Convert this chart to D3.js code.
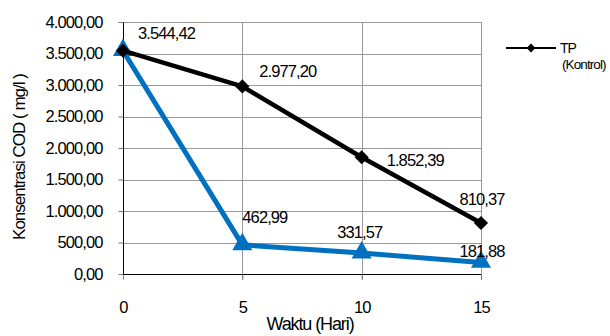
<!DOCTYPE html>
<html>
<head>
<meta charset="utf-8">
<script src="https://cdn.jsdelivr.net/npm/d3@7/dist/d3.min.js"></script>
<style>
  html, body { margin: 0; padding: 0; background: #fff; }
  svg text { font-family: "Liberation Sans", Arial, sans-serif; fill: #000; }
</style>
</head>
<body>
<script>
// Days of observation
const days = [0, 5, 10, 15];
// COD concentration (mg/l), control series
const kontrol = [3544.42, 2977.20, 1852.39, 810.37];
// COD concentration (mg/l), treated series
const perlakuan = [3544.42, 462.99, 331.57, 181.88];
// Axis ticks
const yTicks = [0, 500, 1000, 1500, 2000, 2500, 3000, 3500, 4000];
const xTicks = [0, 5, 10, 15];
const legendLabel = ["TP", "(Kontrol)"];

const W = 610, H = 336;
const margin = { left: 123, right: 129, top: 22, bottom: 62 };

const svg = d3.select("body").append("svg")
  .attr("width", W).attr("height", H);

const x = d3.scaleLinear().domain([0, 15]).range([margin.left, W - margin.right]);
const y = d3.scaleLinear().domain([0, 4000]).range([H - margin.bottom, margin.top]);

const fmt = v => {
  const s = d3.format(",.2f")(v);
  return s.replace(/,/g, "#").replace(".", ",").replace(/#/g, ".");
};

// Grid lines
const grid = svg.append("g").attr("stroke", "#999").attr("stroke-width", 1);
grid.selectAll(".hg").data(yTicks.filter(d => d > 0)).join("line")
  .attr("x1", x(0)).attr("x2", x(15))
  .attr("y1", d => Math.round(y(d)) + 0.5).attr("y2", d => Math.round(y(d)) + 0.5);
grid.selectAll(".vg").data(xTicks.filter(d => d > 0)).join("line")
  .attr("y1", y(4000)).attr("y2", y(0) + 6)
  .attr("x1", d => Math.round(x(d)) + 0.5).attr("x2", d => Math.round(x(d)) + 0.5);

// Y axis
const yAxis = svg.append("g")
  .attr("transform", `translate(${Math.round(x(0)) + 0.5},0)`)
  .call(d3.axisLeft(y).tickValues(yTicks).tickFormat(fmt).tickSize(5).tickPadding(16));
yAxis.select(".domain").attr("stroke", "#000").attr("d", `M0,${y(4000)}V${y(0) + 5}`);
yAxis.selectAll(".tick line").attr("stroke", "#777");
yAxis.selectAll("text").attr("font-size", 16.5).attr("letter-spacing", -0.9)
  .attr("font-family", "'Liberation Sans', Arial, sans-serif").attr("fill", "#000");

// X axis
const xAxis = svg.append("g")
  .attr("transform", `translate(0,${Math.round(y(0)) + 0.5})`)
  .call(d3.axisBottom(x).tickValues(xTicks).tickSize(5).tickPadding(22));
xAxis.select(".domain").attr("stroke", "#000").attr("d", `M${x(0)},0H${x(15)}`);
xAxis.selectAll(".tick line").attr("stroke", "#777");
xAxis.selectAll("text").attr("font-size", 16.5).attr("letter-spacing", -0.9)
  .attr("font-family", "'Liberation Sans', Arial, sans-serif").attr("fill", "#000");

// Axis titles
svg.append("text")
  .attr("x", 310).attr("y", 330).attr("text-anchor", "middle")
  .attr("font-size", 18).attr("letter-spacing", -1.1)
  .text("Waktu (Hari)");
svg.append("text")
  .attr("transform", "translate(25,157) rotate(-90)")
  .attr("text-anchor", "middle")
  .attr("font-size", 17).attr("letter-spacing", -1)
  .text("Konsentrasi COD ( mg/l )");

const line = d3.line().x((d, i) => x(days[i])).y(d => y(d));

// Treated series (blue, triangles)
svg.append("path").datum(perlakuan)
  .attr("d", line).attr("fill", "none")
  .attr("stroke", "#0070C0").attr("stroke-width", 5).attr("stroke-linejoin", "round");
const tri = d3.symbol().type(d3.symbolTriangle).size(175);
svg.selectAll(".tri").data(perlakuan).join("path")
  .attr("d", tri)
  .attr("transform", (d, i) => `translate(${x(days[i])},${y(d) - 0.5})`)
  .attr("fill", "#0070C0");

// Control series (black, diamonds)
svg.append("path").datum(kontrol)
  .attr("d", line).attr("fill", "none")
  .attr("stroke", "#000").attr("stroke-width", 4.5).attr("stroke-linejoin", "round");
const dia = d3.symbol().type(d3.symbolSquare).size(100);
svg.selectAll(".dia").data(kontrol).join("path")
  .attr("d", dia)
  .attr("transform", (d, i) => `translate(${x(days[i])},${y(d)}) rotate(45)`)
  .attr("fill", "#000");

// Value labels: placement per point
const kPlace = [[15, -12, "start"], [17, -9, "start"], [25, 9, "start"], [1, -18, "middle"]];
const pPlace = [null, [0, -22, "start"], [-2, -15, "middle"], [1, -6, "middle"]];

function labels(vals, place) {
  vals.forEach((v, i) => {
    const p = place[i];
    if (!p) return;
    svg.append("text")
      .attr("x", x(days[i]) + p[0]).attr("y", y(v) + p[1])
      .attr("text-anchor", p[2])
      .attr("font-size", 16.5).attr("letter-spacing", -0.9)
      .text(fmt(v));
  });
}
labels(kontrol, kPlace);
labels(perlakuan, pPlace);

// Legend
const lg = svg.append("g").attr("transform", "translate(506,48)");
lg.append("line").attr("x1", 0).attr("x2", 50).attr("y1", 0).attr("y2", 0)
  .attr("stroke", "#000").attr("stroke-width", 2);
lg.append("path").attr("d", d3.symbol().type(d3.symbolSquare).size(40))
  .attr("transform", "translate(25,0) rotate(45)").attr("fill", "#000");
lg.append("text").attr("x", 54).attr("y", 5).attr("font-size", 14).attr("letter-spacing", -1.1)
  .text(legendLabel[0]);
lg.append("text").attr("x", 56).attr("y", 21).attr("font-size", 13.5).attr("letter-spacing", -0.9)
  .text(legendLabel[1]);
</script>
</body>
</html>
